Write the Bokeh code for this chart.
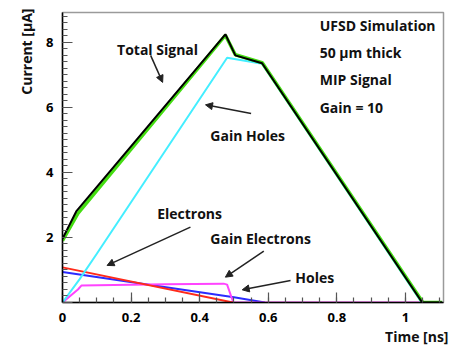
from bokeh.plotting import figure
from bokeh.models import Label, Arrow, NormalHead, FixedTicker, Range1d, Title
from bokeh.embed import file_html
from bokeh.resources import INLINE

# ---- data ----
total_x = [0.0, 0.04, 0.475, 0.504, 0.582, 1.049, 1.107]
total_y = [1.96, 2.80, 8.25, 7.60, 7.36, 0.0, 0.0]

total_green_x = [0.0, 0.045, 0.475, 0.504, 0.582, 1.051, 1.107]
total_green_y = [1.90, 2.74, 8.22, 7.62, 7.38, 0.0, 0.0]

gain_holes_x = [0.0, 0.05, 0.10, 0.48, 0.557, 0.582, 1.047, 1.107]
gain_holes_y = [0.0, 0.72, 1.50, 7.53, 7.39, 7.34, 0.0, 0.0]

electrons_x = [0.0, 0.497]
electrons_y = [1.08, 0.0]

holes_x = [0.0, 0.50, 0.59]
holes_y = [0.94, 0.16, 0.0]

gain_el_x = [0.0, 0.045, 0.055, 0.15, 0.30, 0.47, 0.48, 0.498, 1.107]
gain_el_y = [0.0, 0.40, 0.52, 0.54, 0.56, 0.58, 0.55, 0.0, 0.0]

x_ticks = [0, 0.2, 0.4, 0.6, 0.8, 1]
x_tick_labels = ["0", "0.2", "0.4", "0.6", "0.8", "1"]
y_ticks = [0, 2, 4, 6, 8]
y_tick_labels = ["", "2", "4", "6", "8"]

FONT = "Open Sans"

p = figure(width=451, height=350, output_backend="svg", toolbar_location=None,
           x_range=Range1d(0, 1.111), y_range=Range1d(0, 8.92),
           min_border_left=62, min_border_right=8, min_border_top=12, min_border_bottom=48)
p.background_fill_color = "white"
p.border_fill_color = "white"
p.grid.visible = False
p.outline_line_color = "#9a9a9a"
p.outline_line_width = 1.5

for ax in (p.xaxis[0], p.yaxis[0]):
    ax.axis_line_color = "black"
    ax.axis_line_width = 1.5
    ax.major_tick_in = 10
    ax.major_tick_out = 0
    ax.minor_tick_in = 5
    ax.minor_tick_out = 0
    ax.major_tick_line_color = "#555555"
    ax.minor_tick_line_color = "#555555"
    ax.major_tick_line_width = 1.2
    ax.minor_tick_line_width = 1.2
    ax.major_label_text_font = FONT
    ax.major_label_text_font_style = "bold"
    ax.major_label_text_font_size = "13px"
    ax.major_label_text_color = "black"
    ax.major_label_standoff = 9
p.xaxis.major_label_standoff = 10

p.xaxis.ticker = FixedTicker(ticks=x_ticks, minor_ticks=[i * 0.05 for i in range(23)])
p.xaxis.major_label_overrides = dict(zip(x_ticks, x_tick_labels))
p.yaxis.ticker = FixedTicker(ticks=y_ticks, minor_ticks=[i * 0.2 for i in range(45)])
p.yaxis.major_label_overrides = dict(zip(y_ticks, y_tick_labels))

# ---- curves ----
p.line(holes_x, holes_y, line_color="#2b2bff", line_width=2)
p.line(gain_el_x, gain_el_y, line_color="#ff44ff", line_width=2)
p.line(electrons_x, electrons_y, line_color="#ff2a1a", line_width=2)
p.line(gain_holes_x, gain_holes_y, line_color="#44eeff", line_width=2)
p.line(total_green_x, total_green_y, line_color="#44dd11", line_width=3.5)
p.line(total_x, total_y, line_color="black", line_width=2)

# ---- annotations ----
def lab(x, y, t):
    p.add_layout(Label(x=x, y=y, text=t, text_font=FONT, text_font_style="bold",
                       text_font_size="14px", text_color="#111111", text_align="left",
                       text_baseline="middle"))

lab(0.159, 7.78, "Total Signal")
lab(0.431, 5.14, "Gain Holes")
lab(0.276, 2.73, "Electrons")
lab(0.431, 1.96, "Gain Electrons")
lab(0.679, 0.78, "Holes")
lab(0.750, 8.52, "UFSD Simulation")
lab(0.750, 7.70, "50 μm thick")
lab(0.750, 6.86, "MIP Signal")
lab(0.750, 5.99, "Gain = 10")

arrows = [
    (0.257, 7.60, 0.292, 6.77),
    (0.550, 5.81, 0.417, 6.08),
    (0.373, 2.32, 0.130, 1.14),
    (0.587, 1.58, 0.475, 0.78),
    (0.665, 0.68, 0.524, 0.39),
]
for xs, ys, xe, ye in arrows:
    p.add_layout(Arrow(end=NormalHead(size=7, fill_color="#222222", line_color="#222222"),
                       x_start=xs, y_start=ys, x_end=xe, y_end=ye,
                       line_color="#222222", line_width=1.5))

# axis titles placed at the ends of the axes, as in the reference
p.add_layout(Title(text="Time [ns]", align="right", offset=-5, standoff=0,
                   text_font=FONT, text_font_style="bold", text_font_size="14px",
                   text_color="#111111"), "below")
p.add_layout(Title(text="Current [μA]", align="right", offset=-12, standoff=0, padding=8,
                   text_font=FONT, text_font_style="bold", text_font_size="14px",
                   text_color="#111111"), "left")

open("out.html", "w").write(file_html(p, INLINE))
